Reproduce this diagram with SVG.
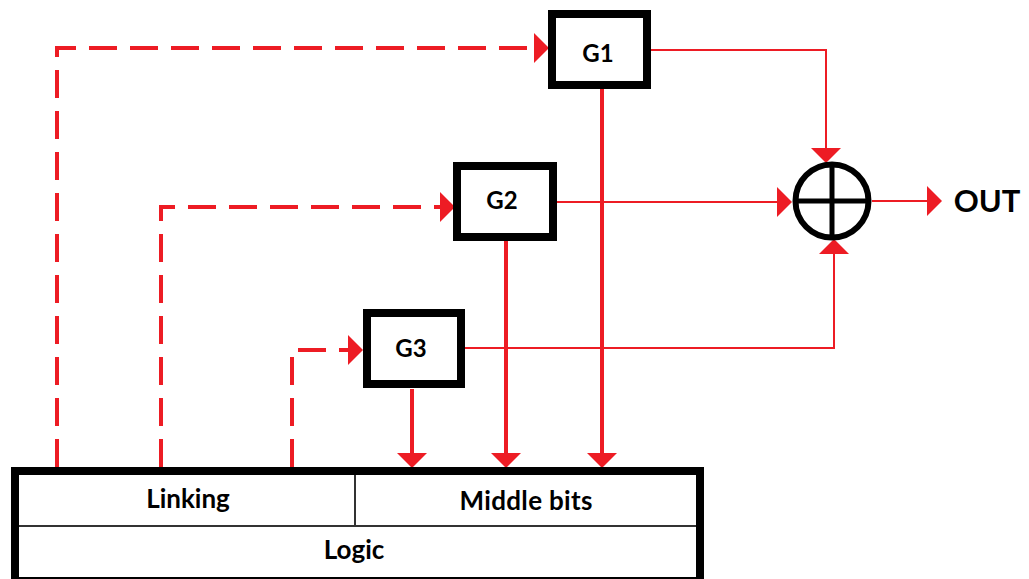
<svg xmlns="http://www.w3.org/2000/svg" width="1029" height="579" viewBox="0 0 1029 579">
  <style>
    .box { fill: #ffffff; stroke: #000000; stroke-width: 8; }
    .label { font-family: Lato, "Open Sans", "Liberation Sans", sans-serif; font-weight: bold; fill: #000000; text-anchor: middle; }
    .dash { fill: none; stroke: #ed1c24; stroke-width: 4; stroke-dasharray: 28 13; marker-end: url(#head); }
    .thick { fill: none; stroke: #ed1c24; stroke-width: 4; marker-end: url(#head); }
    .thin { fill: none; stroke: #ed1c24; stroke-width: 2; marker-end: url(#head); }
    .divider { stroke: #333333; stroke-width: 2; fill: none; }
  </style>
  <defs>
    <!-- filled triangular arrowhead, 15 long and 30 wide, starting at the path end -->
    <marker id="head" markerUnits="userSpaceOnUse" markerWidth="16" markerHeight="30" refX="0" refY="15" orient="auto" overflow="visible">
      <path d="M0,0 L15,15 L0,30 Z" fill="#ed1c24"/>
    </marker>
  </defs>

  <rect width="1029" height="579" fill="#ffffff"/>

  <!-- connectors -->
  <g id="connectors">
    <!-- dashed feeds from the Linking field to the generators -->
    <path class="dash" d="M57,467 V48 H534"/>
    <path class="dash" d="M161,467 V207 H440"/>
    <path class="dash" d="M292,467 V350 H348"/>
    <!-- generator outputs into the Middle bits field -->
    <path class="thick" d="M412,389 V453"/>
    <path class="thick" d="M506,241 V453"/>
    <path class="thick" d="M602,89 V453"/>
    <!-- generator outputs into the XOR -->
    <path class="thin" d="M651,50 H826 V148"/>
    <path class="thin" d="M557,202 H777"/>
    <path class="thin" d="M465,348 H834 V254"/>
    <!-- XOR result -->
    <path class="thin" d="M872,201 H927"/>
  </g>

  <!-- generators -->
  <g id="g1">
    <rect class="box" x="552" y="14" width="95" height="71"/>
    <text class="label" x="598" y="62" font-size="24">G1</text>
  </g>
  <g id="g2">
    <rect class="box" x="457" y="166" width="96" height="71"/>
    <text class="label" x="502" y="209" font-size="24">G2</text>
  </g>
  <g id="g3">
    <rect class="box" x="367" y="313" width="94" height="71"/>
    <text class="label" x="411" y="357" font-size="24">G3</text>
  </g>

  <!-- XOR combiner -->
  <g id="xor" stroke="#000000" fill="none">
    <circle cx="832" cy="201" r="36.5" stroke-width="6" fill="#ffffff"/>
    <line x1="796" y1="201" x2="868" y2="201" stroke-width="5"/>
    <line x1="832" y1="165" x2="832" y2="237" stroke-width="5"/>
  </g>

  <!-- output label -->
  <g id="out">
    <text class="label" x="987" y="212" font-size="31">OUT</text>
  </g>

  <!-- state register: Linking | Middle bits over Logic -->
  <g id="register">
    <rect class="box" x="15" y="471" width="685" height="110"/>
    <line class="divider" x1="19" y1="526" x2="696" y2="526"/>
    <line class="divider" x1="355" y1="475" x2="355" y2="526"/>
    <text class="label" x="188" y="508" font-size="26">Linking</text>
    <text class="label" x="526" y="510" font-size="26" textLength="133" lengthAdjust="spacing">Middle bits</text>
    <text class="label" x="354" y="559" font-size="26">Logic</text>
  </g>
</svg>
